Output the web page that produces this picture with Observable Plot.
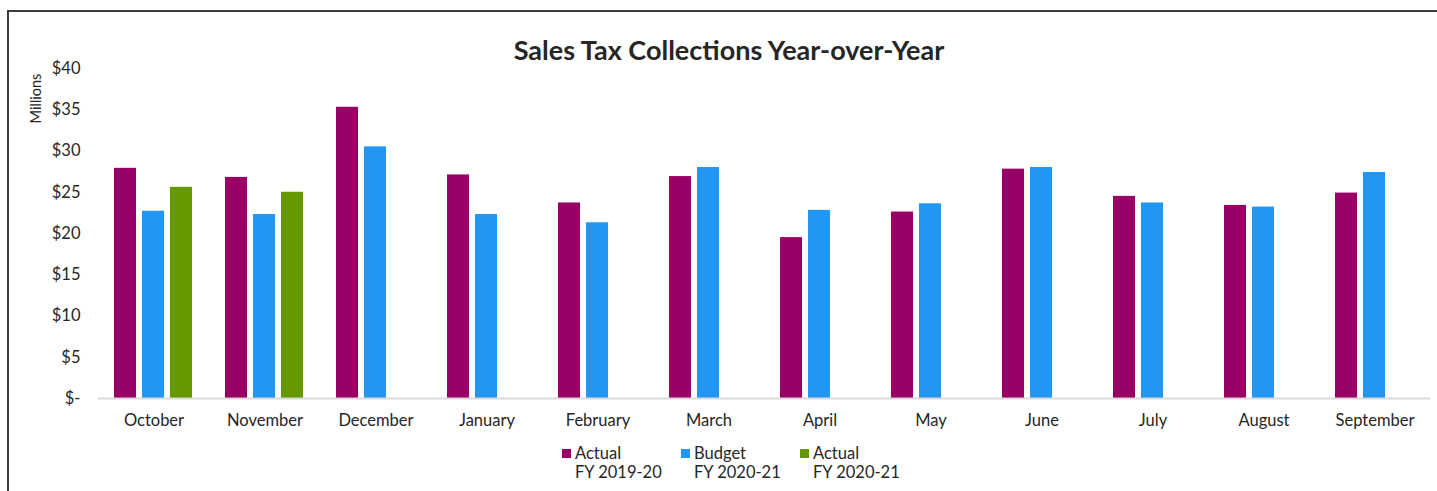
<!DOCTYPE html>
<html>
<head>
<meta charset="utf-8">
<script src="https://cdn.jsdelivr.net/npm/d3@7"></script>
<script src="https://cdn.jsdelivr.net/npm/@observablehq/plot@0.6"></script>
<style>
  html, body { margin: 0; padding: 0; background: #fff; }
  body { font-family: Lato, "Open Sans", sans-serif; color: #262626; width: 1437px; height: 491px; overflow: hidden; }
  #frame { margin-left: 7px; margin-top: 10px; border-left: 2px solid #3c3c3c; border-top: 2px solid #3c3c3c; width: 1428px; height: 479px; }
  #title { font-weight: 700; font-size: 27px; line-height: 30px; padding-top: 23px; text-align: center; padding-left: 12px; margin-bottom: -21px; position: relative; z-index: 1; }
  #legend { display: flex; padding-left: 553px; padding-top: 10px; font-size: 16.5px; line-height: 19px; }
  .item { display: flex; align-items: flex-start; width: 119px; }
  .sw { width: 9px; height: 9px; margin-top: 5px; margin-right: 4px; flex: none; }
</style>
</head>
<body>
<div id="frame">
  <div id="title">Sales Tax Collections Year-over-Year</div>
  <div id="chart"></div>
  <div id="legend"></div>
</div>
<script>
const months = ["October","November","December","January","February","March","April","May","June","July","August","September"];
const seriesKeys = ["Actual FY 2019-20","Budget FY 2020-21","Actual FY 2020-21"];
const seriesLines = [["Actual","FY 2019-20"],["Budget","FY 2020-21"],["Actual","FY 2020-21"]];
const seriesColors = ["#990066","#2196F3","#669900"];
const actual1920 = [27.9, 26.8, 35.3, 27.1, 23.7, 26.9, 19.5, 22.6, 27.8, 24.5, 23.4, 24.9];
const budget2021 = [22.7, 22.3, 30.5, 22.3, 21.3, 28.0, 22.8, 23.6, 28.0, 23.7, 23.2, 27.4];
const actual2021 = [25.6, 25.0];
const yTicks = [0, 5, 10, 15, 20, 25, 30, 35, 40];

const rows = [];
[actual1920, budget2021, actual2021].forEach((vals, i) => {
  vals.forEach((v, j) => rows.push({month: months[j], series: seriesKeys[i], value: v}));
});

const chart = Plot.plot({
  width: 1428,
  height: 390,
  marginTop: 24,
  marginBottom: 36,
  marginLeft: 89,
  marginRight: 7,
  style: {fontFamily: "Lato, 'Open Sans', sans-serif", fontSize: "16.5px", color: "#262626", background: "transparent", overflow: "visible"},
  fx: {domain: months, padding: 0, label: null, axis: "bottom", tickSize: 0, tickPadding: 16},
  x: {domain: seriesKeys, paddingInner: 0.214, paddingOuter: 0.589, axis: null},
  y: {domain: [0, 40], ticks: yTicks, tickFormat: d => d === 0 ? "$-" : "$" + d, tickSize: 0, tickPadding: 18, label: null},
  color: {domain: seriesKeys, range: seriesColors},
  marks: [
    Plot.barY(rows, {fx: "month", x: "series", y: "value", fill: "series"}),
    Plot.ruleY([0], {stroke: "#d9d9d9", strokeWidth: 2}),
    Plot.text(["Millions"], {fx: () => "October", frameAnchor: "top-left", textAnchor: "middle", lineAnchor: "middle", text: d => d, rotate: -90, dx: -62.5, dy: 30, fontSize: 14.5, fill: "#262626"})
  ]
});
document.getElementById("chart").appendChild(chart);

const legend = document.getElementById("legend");
seriesKeys.forEach((k, i) => {
  const item = document.createElement("div");
  item.className = "item";
  const sw = document.createElement("div");
  sw.className = "sw";
  sw.style.background = seriesColors[i];
  const txt = document.createElement("div");
  txt.innerHTML = seriesLines[i].join("<br>");
  item.appendChild(sw);
  item.appendChild(txt);
  legend.appendChild(item);
});
</script>
</body>
</html>
